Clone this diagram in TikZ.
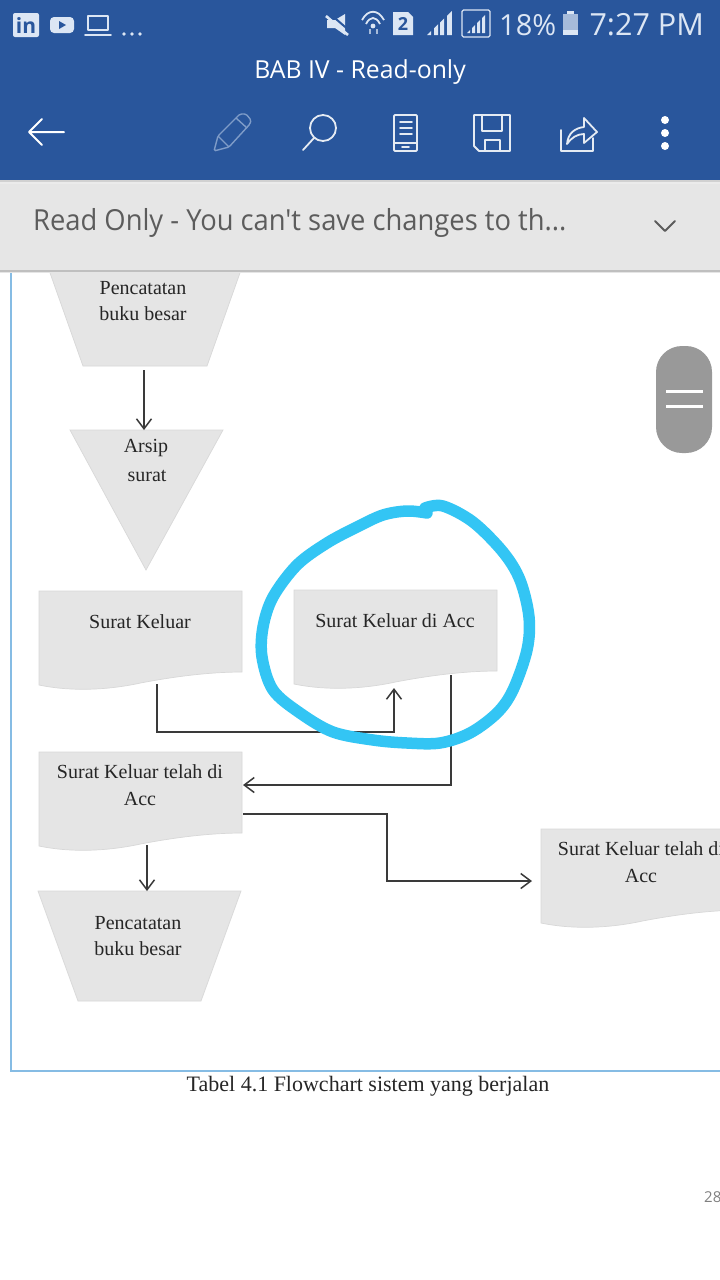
\documentclass[tikz,border=0pt]{standalone}
\usepackage{fontspec}
\setmainfont{Liberation Serif}
\newfontfamily\uifont{Open Sans}
\usetikzlibrary{arrows.meta,calc}
\definecolor{hdr}{HTML}{29569C}
\definecolor{barg}{HTML}{E6E6E6}
\definecolor{shp}{HTML}{E5E5E5}
\definecolor{shpline}{HTML}{D8D8D8}
\definecolor{conn}{HTML}{3A3A3A}
\definecolor{framec}{HTML}{86BCE4}
\definecolor{cyanpen}{HTML}{33C5F4}
\definecolor{icon}{HTML}{DCE6F4}
\definecolor{pale}{HTML}{7F9CC8}
\definecolor{rotxt}{HTML}{5C5C5C}
\tikzset{
  x=1pt,y=-1pt,
  flowline/.style={draw=conn,line width=1.4pt},
  flowarrow/.style={flowline,-{Straight Barb[length=10pt,width=15pt,line width=1.5pt]}},
  shapefill/.style={fill=shp,draw=shpline,line width=.7pt},
  lbl/.style={font=\fontsize{20}{22}\selectfont,text=black!85,inner sep=0pt,yshift=-.5pt},
  icn/.style={draw=icon,line width=1.6pt,line cap=round,line join=round},
  ui/.style={font=\uifont\fontsize{#1}{#1}\selectfont,inner sep=0pt},
  box/.style={inner sep=0pt,outer sep=0pt,anchor=north west},
  tool/.style={draw=white!88!hdr,line width=1.8pt,line join=round,line cap=round}
}
\newcommand{\docshape}[5]{%
  \node[box,minimum width=#4pt,minimum height=#5pt] (#1) at (#2,#3) {};
  \begin{scope}[shift={(#2,#3)}]
  \fill[shp,draw=shpline,line width=.7pt] (0,0) -- (#4,0) -- (#4,#5-18)
    .. controls (0.85*#4,#5-18) and (0.68*#4,#5-14) .. (0.5*#4,#5-7)
    .. controls (0.32*#4,#5+1) and (0.14*#4,#5+1) .. (0,#5-5) -- cycle;
  \end{scope}}
\begin{document}
\begin{tikzpicture}
\clip (0,0) rectangle (720,1280);
\fill[white] (0,0) rectangle (720,1280);
% page frame
\draw[framec,line width=1.1pt] (11,270) -- (11,1071) -- (720,1071);
% flow shapes
\fill[shp,draw=shpline,line width=.7pt] (49,270) -- (241,270) -- (207,366) -- (83,366) -- cycle;
\node[lbl] (t1a) at (143,288) {Pencatatan};
\node[lbl] (t1b) at (143,313) {buku besar};
\fill[shp,draw=shpline,line width=.7pt] (70,430) -- (223,430) -- (146,570) -- cycle;
\coordinate (arsip) at (144,430);
\node[lbl] (t2a) at (146,448) {Arsip};
\node[lbl] (t2b) at (147,475) {surat};
\docshape{sk}{39}{591}{203}{99}
\node[lbl] (t3) at (140,621) {Surat Keluar};
\docshape{acc}{294}{590}{203}{99}
\node[lbl] (t4) at (395,620) {Surat Keluar di Acc};
\docshape{tl}{39}{752}{203}{99}
\node[lbl] (t5a) at (140,771) {Surat Keluar telah di};
\node[lbl] (t5b) at (140,798) {Acc};
\docshape{rd}{541}{829}{203}{99}
\node[lbl] (t6a) at (641,848) {Surat Keluar telah di};
\node[lbl] (t6b) at (641,875) {Acc};
\fill[shp,draw=shpline,line width=.7pt] (38,891) -- (241,891) -- (201,1001) -- (78,1001) -- cycle;
\coordinate (ledgerB) at (147,891);
\node[lbl] (t7a) at (138,923) {Pencatatan};
\node[lbl] (t7b) at (138,948) {buku besar};
% connectors
\coordinate (ledgerAout) at (144,370);
\draw[flowarrow] (ledgerAout) -- (arsip);
\coordinate (skout) at (157,684);
\coordinate (accin) at (394,688);
\draw[flowarrow] (skout) -- (157,732) -- (394,732) -- (accin);
\coordinate (accout) at (451,675);
\coordinate (tlin) at (243,785);
\draw[flowarrow] (accout) -- (451,785) -- (tlin);
\coordinate (tlout) at (147,845);
\draw[flowarrow] (tlout) -- (ledgerB);
\coordinate (tlr) at (243,814);
\coordinate (rdin) at (532,881);
\draw[flowarrow] (tlr) -- (387,814) -- (387,881) -- (rdin);
% pen circle
\draw[cyanpen,line width=11.5pt,line cap=round,line join=round]
  plot[smooth,tension=.55] coordinates {(425,508) (443,506) (473,522) (503,552) (520,580) (529,617) (527,650) (513,690) (497,713) (470,733) (440,743) (407,743) (373,740) (333,732) (300,713) (273,690) (262,657) (263,627) (273,597) (297,565) (327,543) (357,527) (383,515) (407,511) (427,513)};
% caption
\node[font=\fontsize{22}{24}\selectfont,text=black!85,inner sep=0pt] (cap) at (368,1086) {Tabel 4.1 Flowchart sistem yang berjalan};
\node[ui=15,text=black!50,anchor=west] (pg) at (704,1197) {28};
% scroll handle
\fill[black!40,rounded corners=26pt] (656,346) rectangle (712,453);
\draw[white,line width=3pt] (666,391) -- (703,391) (666,406) -- (703,406);
% read only bar
\fill[black!25] (0,270) rectangle (720,271.5);
\fill[black!10] (0,271.5) rectangle (720,273);
\fill[barg] (0,180) rectangle (720,270);
\node[ui=29,text=rotxt,anchor=west,xscale=.943,transform shape] (ro) at (33,222.5) {Read Only - You can't save changes to th...};
\draw[rotxt,line width=1.8pt,line cap=round,line join=round] (655,221) -- (665,231) -- (675,221);
% header
\fill[black!18] (0,180) rectangle (720,182);
\fill[black!8] (0,182) rectangle (720,184);
\fill[hdr] (0,0) rectangle (720,180);
\node[ui=24.8,text=white,anchor=center] (title) at (360,72) {BAB IV - Read-only};
% status bar
\fill[icon,rounded corners=2pt] (13,13) rectangle (39,37);
\node[font=\bfseries\uifont\fontsize{21}{21}\selectfont,text=hdr,inner sep=0pt] (lin) at (26,26) {in};
\fill[icon,rounded corners=4pt] (50,17) rectangle (74,33);
\fill[hdr] (59,21) -- (66,25) -- (59,29) -- cycle;
\draw[icn] (88,16) rectangle (108,30);
\draw[icn] (85,35) -- (111,35);
\fill[icon] (124,34) circle (1.8) (132,34) circle (1.8) (140,34) circle (1.8);
% mute
\fill[icon] (327,20) -- (335,20) -- (345,14) -- (345,35) -- (335,28) -- (327,28) -- cycle;
\draw[hdr,line width=2pt] (329,13) -- (351,32);
\draw[icon,line width=2.6pt] (326,16) -- (348,35);
% wifi
\draw[icon,line width=1.8pt] (362,20) .. controls (368,9) and (378,9) .. (384,20);
\draw[icon,line width=1.8pt] (366,24) .. controls (370,16) and (376,16) .. (380,24);
\fill[icon] (373,26) circle (2.4);
\draw[icon!70!hdr,line width=1.6pt] (370,29) -- (370,34) (377,29) -- (377,34);
% sim
\fill[icon] (393,12) -- (408,12) -- (413,17) -- (413,35) -- (393,35) -- cycle;
\node[font=\bfseries\uifont\fontsize{18}{18}\selectfont,text=hdr,inner sep=0pt] (sim) at (403,24) {2};
% signal
\begin{scope}
\clip (427,35) -- (452,11) -- (452,35) -- cycle;
\fill[icon] (427,11) rectangle (431,35) (434,11) rectangle (438,35) (440,11) rectangle (444,35) (447,11) rectangle (452,35);
\end{scope}
\draw[icn,rounded corners=1.5pt,line width=1.4pt] (462,10) rectangle (490,37);
\begin{scope}
\clip (467,33) -- (485,15) -- (485,33) -- cycle;
\fill[icon] (467,15) rectangle (470,33) (472,15) rectangle (475,33) (477,15) rectangle (480,33) (482,15) rectangle (485,33);
\end{scope}
\node[ui=29,text=icon,anchor=west] (batt) at (499,25) {18\%};
\fill[icon!70!hdr] (563,14) rectangle (578,35);
\fill[icon] (563,30) rectangle (578,35);
\fill[icon] (567,11) rectangle (574,14);
\node[ui=30.5,text=icon,anchor=east] (clock) at (704,25) {7:27 PM};
% toolbar
\draw[draw=white,line width=2pt,line cap=round,line join=round] (64,132) -- (30,132) (42,119) -- (29,132) -- (42,145);
\draw[pale,line width=1.4pt,line join=round,rounded corners=1.5pt] (214,151) -- (218,136) -- (240,114) -- (246,114) -- (251,120) -- (250,124) -- (229,147) -- cycle;
\draw[pale,line width=1.4pt] (218,136) -- (229,147) (236,118) -- (247,128);
\draw[tool] (323,128) circle (13) (314,138) -- (303,150);
\draw[tool,rounded corners=1pt] (394,115) rectangle (417,151);
\draw[tool] (400,122) -- (412,122) (400,128) -- (412,128) (400,134) -- (412,134) (394,143) -- (417,143) (402,147) -- (409,147);
\draw[tool] (474,115) -- (510,115) -- (510,151) -- (479,151) -- (474,146) -- cycle;
\draw[tool] (482,115) -- (482,131) -- (502,131) -- (502,115) (485,151) -- (485,140) -- (500,140) -- (500,151);
\draw[tool] (561,130) -- (561,151) -- (593,151) -- (593,138);
\draw[tool] (567,144) .. controls (568,133) and (575,128) .. (584,127) -- (584,118) -- (597,132) -- (584,143) -- (584,134) .. controls (577,134) and (571,138) .. (567,144) -- cycle;
\fill[white] (665,120) circle (4) (665,133) circle (4) (665,146) circle (4);
\end{tikzpicture}
\end{document}
